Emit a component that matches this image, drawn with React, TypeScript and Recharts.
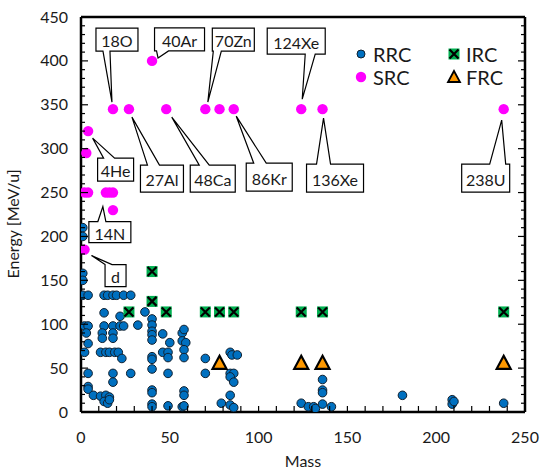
import { ScatterChart, Scatter, XAxis, YAxis, ReferenceDot, Legend, Label } from "recharts"

const FONT = "Lato, 'Open Sans', sans-serif"
const TEXT = "#1a1a1a"

type Pt = { mass: number; energy: number; name?: string }

// RRC beams
const rrc: Pt[] = [
  { mass: 1, energy: 210 }, { mass: 1, energy: 200 }, { mass: 1, energy: 158 }, { mass: 1, energy: 150 },
  { mass: 1, energy: 133 }, { mass: 4, energy: 133 }, { mass: 13, energy: 133 }, { mass: 15, energy: 133 },
  { mass: 18, energy: 133 }, { mass: 20, energy: 133 }, { mass: 24, energy: 133 }, { mass: 28, energy: 133 },
  { mass: 13, energy: 113 }, { mass: 22, energy: 109 },
  { mass: 2, energy: 98 }, { mass: 4, energy: 98 }, { mass: 13, energy: 98 }, { mass: 18, energy: 98 },
  { mass: 22, energy: 98 }, { mass: 24, energy: 98 }, { mass: 32, energy: 99 },
  { mass: 3, energy: 90 }, { mass: 12, energy: 90 }, { mass: 18, energy: 90 },
  { mass: 12, energy: 84 }, { mass: 18, energy: 84 }, { mass: 4, energy: 78 },
  { mass: 2, energy: 68 }, { mass: 11, energy: 68 }, { mass: 14, energy: 68 }, { mass: 16, energy: 68 },
  { mass: 19, energy: 68 }, { mass: 21, energy: 68 }, { mass: 23, energy: 61 },
  { mass: 4, energy: 44 }, { mass: 18, energy: 44 }, { mass: 28, energy: 44 }, { mass: 18, energy: 34 },
  { mass: 4, energy: 29 }, { mass: 4, energy: 26 }, { mass: 7, energy: 19 }, { mass: 11, energy: 18 },
  { mass: 14, energy: 19 }, { mass: 16, energy: 17 }, { mass: 13, energy: 12 }, { mass: 15, energy: 10 },
  { mass: 16, energy: 14 },
  { mass: 36, energy: 114 }, { mass: 40, energy: 106 }, { mass: 40, energy: 99 }, { mass: 40, energy: 92 },
  { mass: 40, energy: 88 }, { mass: 40, energy: 82 }, { mass: 46, energy: 89 }, { mass: 50, energy: 79 },
  { mass: 57, energy: 90 }, { mass: 58, energy: 94 }, { mass: 57, energy: 81 }, { mass: 59, energy: 79 },
  { mass: 58, energy: 71 }, { mass: 58, energy: 62 }, { mass: 40, energy: 63 }, { mass: 40, energy: 60 },
  { mass: 46, energy: 68 }, { mass: 49, energy: 68 }, { mass: 49, energy: 62 }, { mass: 40, energy: 49 },
  { mass: 49, energy: 44 }, { mass: 70, energy: 61 }, { mass: 70, energy: 44 },
  { mass: 40, energy: 25 }, { mass: 40, energy: 22 }, { mass: 58, energy: 24 }, { mass: 58, energy: 19 },
  { mass: 40, energy: 9 }, { mass: 40, energy: 6 }, { mass: 49, energy: 7 }, { mass: 57, energy: 6 },
  { mass: 58, energy: 7 },
  { mass: 84, energy: 68 }, { mass: 85, energy: 65 }, { mass: 88, energy: 65 }, { mass: 84, energy: 44 },
  { mass: 86, energy: 44 }, { mass: 84, energy: 40 }, { mass: 86, energy: 34 }, { mass: 84, energy: 19 },
  { mass: 79, energy: 10 }, { mass: 84, energy: 8 }, { mass: 86, energy: 5 },
  { mass: 124, energy: 10 }, { mass: 128, energy: 6 }, { mass: 131, energy: 6 }, { mass: 132, energy: 4 },
  { mass: 136, energy: 9 }, { mass: 136, energy: 37 }, { mass: 136, energy: 25 }, { mass: 136, energy: 22 },
  { mass: 141, energy: 6 },
  { mass: 181, energy: 19 }, { mass: 209, energy: 14 }, { mass: 209, energy: 9 }, { mass: 210, energy: 12 },
  { mass: 238, energy: 10 },
]

// SRC beams (named ones get a callout)
const src: Pt[] = [
  { mass: 2, energy: 185, name: "d" },
  { mass: 2, energy: 250 }, { mass: 4, energy: 250 },
  { mass: 14, energy: 250, name: "14N" }, { mass: 16, energy: 250 }, { mass: 18, energy: 250 },
  { mass: 18, energy: 230 }, { mass: 3, energy: 295 },
  { mass: 4, energy: 320, name: "4He" },
  { mass: 18, energy: 345, name: "18O" }, { mass: 27, energy: 345, name: "27Al" },
  { mass: 40, energy: 400, name: "40Ar" }, { mass: 48, energy: 345, name: "48Ca" },
  { mass: 70, energy: 345, name: "70Zn" }, { mass: 78, energy: 345 },
  { mass: 86, energy: 345, name: "86Kr" }, { mass: 124, energy: 345, name: "124Xe" },
  { mass: 136, energy: 345, name: "136Xe" }, { mass: 238, energy: 345, name: "238U" },
]

// IRC beams
const irc: Pt[] = [
  { mass: 27, energy: 114 }, { mass: 40, energy: 160 }, { mass: 40, energy: 126 }, { mass: 48, energy: 114 },
  { mass: 70, energy: 114 }, { mass: 78, energy: 114 }, { mass: 86, energy: 114 },
  { mass: 124, energy: 114 }, { mass: 136, energy: 114 }, { mass: 238, energy: 114 },
]

// FRC beams
const frc: Pt[] = [
  { mass: 78, energy: 56 }, { mass: 124, energy: 56 }, { mass: 136, energy: 56 }, { mass: 238, energy: 56 },
]

const xTicks = [0, 10, 20, 30, 40, 50, 60, 70, 80, 90, 100, 110, 120, 130, 140, 150, 160, 170, 180, 190, 200, 210, 220, 230, 240, 250]
const yTicks = [0, 10, 20, 30, 40, 50, 60, 70, 80, 90, 100, 110, 120, 130, 140, 150, 160, 170, 180, 190, 200, 210, 220, 230, 240, 250, 260, 270, 280, 290, 300, 310, 320, 330, 340, 350, 360, 370, 380, 390, 400, 410, 420, 430, 440, 450]

// callout box geometry in px, relative to the labelled point
const calloutStyle: Record<string, { box: number[]; side: "top" | "bottom"; base: number[]; tip: number[] }> = {
  "18O": { box: [-17, -81, 42, 23], side: "bottom", base: [7, 14], tip: [-1, -7] },
  "40Ar": { box: [2.5, -33, 50, 23], side: "bottom", base: [2, 14], tip: [6, -3] },
  "70Zn": { box: [7, -81, 42, 23], side: "bottom", base: [1, 9], tip: [2.5, -7] },
  "124Xe": { box: [-34, -81, 58, 26], side: "bottom", base: [38, 48], tip: [1, -10] },
  "136Xe": { box: [-16, 55, 57, 28], side: "top", base: [10, 24], tip: [1, 9] },
  "238U": { box: [-42, 55, 48, 28], side: "top", base: [28, 44], tip: [-2, 11] },
  "27Al": { box: [11.5, 56, 43, 27], side: "top", base: [7, 19], tip: [3, 8] },
  "48Ca": { box: [24, 56, 45, 27], side: "top", base: [9, 19], tip: [5.5, 8] },
  "86Kr": { box: [12.5, 54, 46, 28], side: "top", base: [7.5, 20], tip: [2.5, 7] },
  "4He": { box: [9.5, 27, 36, 23], side: "top", base: [6, 17], tip: [4.5, 7] },
  "14N": { box: [-17, 29, 42, 21], side: "top", base: [9, 17], tip: [-3, 14] },
  d: { box: [20.5, 15, 21, 22], side: "top", base: [0, 7], tip: [7, 6] },
}

function Callout({ cx, cy, name }: any) {
  const cfg = calloutStyle[name]
  const [bx, by, w, h] = cfg.box
  const x0 = cx + bx
  const y0 = cy + by
  const tx = cx + cfg.tip[0]
  const ty = cy + cfg.tip[1]
  const [b1, b2] = cfg.base
  const d =
    cfg.side === "bottom"
      ? `M${x0},${y0}H${x0 + w}V${y0 + h}H${x0 + b2}L${tx},${ty}L${x0 + b1},${y0 + h}H${x0}Z`
      : `M${x0},${y0}H${x0 + b1}L${tx},${ty}L${x0 + b2},${y0}H${x0 + w}V${y0 + h}H${x0}Z`
  return (
    <g>
      <path d={d} fill="#fff" stroke="#000" strokeWidth={1.2} />
      <text x={x0 + w / 2} y={y0 + h / 2 + 1} textAnchor="middle" dominantBaseline="central" fontSize={16} fontFamily={FONT} fill={TEXT}>
        {name}
      </text>
    </g>
  )
}

const RrcDot = ({ cx, cy }: any) => <circle cx={cx} cy={cy} r={4.3} fill="#0070C0" stroke="#10202f" strokeWidth={1} />
const SrcDot = ({ cx, cy }: any) => <circle cx={cx} cy={cy} r={5.2} fill="#FF00FF" />
const IrcMark = ({ cx, cy }: any) => (
  <g>
    <rect x={cx - 5.5} y={cy - 5.5} width={11} height={11} fill="#00B050" />
    <path d={`M${cx - 4.5},${cy - 4.5}L${cx + 4.5},${cy + 4.5}M${cx + 4.5},${cy - 4.5}L${cx - 4.5},${cy + 4.5}`} stroke="#000" strokeWidth={2.2} />
  </g>
)
const FrcMark = ({ cx, cy }: any) => (
  <path d={`M${cx},${cy - 7}L${cx + 7},${cy + 6}L${cx - 7},${cy + 6}Z`} fill="#FF9900" stroke="#000" strokeWidth={2.2} />
)

const BottomTick = ({ x, y, payload }: any) => (
  <g>
    <line x1={x} x2={x} y1={y} y2={y - 6} stroke="#000" strokeWidth={1.2} />
    {payload.value % 50 === 0 && (
      <text x={x} y={y + 31} textAnchor="middle" fontSize={16} fontFamily={FONT} fill={TEXT}>
        {payload.value}
      </text>
    )}
  </g>
)
const TopTick = ({ x, y }: any) => <line x1={x} x2={x} y1={y} y2={y + 6} stroke="#000" strokeWidth={1.2} />
const LeftTick = ({ x, y, payload }: any) => {
  const major = payload.value % 50 === 0
  return (
    <g>
      <line x1={x} x2={x + (major ? 7 : 4)} y1={y} y2={y} stroke="#000" strokeWidth={1.2} />
      {major && (
        <text x={x - 13} y={y + 5.5} textAnchor="end" fontSize={16} fontFamily={FONT} fill={TEXT}>
          {payload.value}
        </text>
      )}
    </g>
  )
}
const RightTick = ({ x, y, payload }: any) => (
  <line x1={x} x2={x - (payload.value % 50 === 0 ? 7 : 4)} y1={y} y2={y} stroke="#000" strokeWidth={1.2} />
)

const LegendBox = () => (
  <svg width={190} height={48}>
    <circle cx={9} cy={12} r={4} fill="#0070C0" stroke="#10202f" strokeWidth={1} />
    <text x={21} y={12} dominantBaseline="central" fontSize={20} fontFamily={FONT} fill={TEXT}>RRC</text>
    <circle cx={9} cy={35} r={5.2} fill="#FF00FF" />
    <text x={21} y={35} dominantBaseline="central" fontSize={20} fontFamily={FONT} fill={TEXT}>SRC</text>
    <IrcMark cx={102} cy={12} />
    <text x={114} y={12} dominantBaseline="central" fontSize={20} fontFamily={FONT} fill={TEXT}>IRC</text>
    <path d="M102,29L108,40L96,40Z" fill="#FF9900" stroke="#000" strokeWidth={1.8} />
    <text x={114} y={35} dominantBaseline="central" fontSize={20} fontFamily={FONT} fill={TEXT}>FRC</text>
  </svg>
)

const frame = { stroke: "#000", strokeWidth: 2.5 }

export default function App() {
  return (
    <div style={{ position: "absolute", left: 0, top: 0, background: "#fff" }}>
      <ScatterChart width={541} height={471} margin={{ top: 16, right: 15, bottom: 0, left: 0 }}>
        <XAxis
          dataKey="mass"
          type="number"
          domain={[0, 250]}
          ticks={xTicks}
          interval={0}
          tick={BottomTick}
          tickLine={false}
          tickSize={0}
          tickMargin={0}
          height={59}
          axisLine={frame}
          allowDataOverflow
        >
          <Label
            content={() => (
              <text x={303} y={467} textAnchor="middle" fontSize={16} fontFamily={FONT} fill={TEXT}>
                Mass
              </text>
            )}
          />
        </XAxis>
        <XAxis
          xAxisId="top"
          orientation="top"
          type="number"
          domain={[0, 250]}
          ticks={xTicks}
          interval={0}
          tick={TopTick}
          tickLine={false}
          tickSize={0}
          tickMargin={0}
          height={1}
          axisLine={frame}
          allowDataOverflow
        />
        <YAxis
          dataKey="energy"
          type="number"
          domain={[0, 450]}
          ticks={yTicks}
          interval={0}
          tick={LeftTick}
          tickLine={false}
          tickSize={0}
          tickMargin={0}
          width={81}
          axisLine={frame}
          allowDataOverflow
        >
          <Label
            content={() => (
              <text x={19} y={224} transform="rotate(-90 19 224)" textAnchor="middle" fontSize={16} fontFamily={FONT} fill={TEXT}>
                Energy [MeV/u]
              </text>
            )}
          />
        </YAxis>
        <YAxis
          yAxisId="right"
          orientation="right"
          type="number"
          domain={[0, 450]}
          ticks={yTicks}
          interval={0}
          tick={RightTick}
          tickLine={false}
          tickSize={0}
          tickMargin={0}
          width={1}
          axisLine={frame}
          allowDataOverflow
        />
        <Scatter name="RRC" data={rrc} shape={RrcDot} isAnimationActive={false} />
        <Scatter name="SRC" data={src} shape={SrcDot} isAnimationActive={false} />
        <Scatter name="IRC" data={irc} shape={IrcMark} isAnimationActive={false} />
        <Scatter name="FRC" data={frc} shape={FrcMark} isAnimationActive={false} />
        {src
          .filter((p) => p.name)
          .map((p) => (
            <ReferenceDot
              key={p.name}
              x={p.mass}
              y={p.energy}
              r={5}
              ifOverflow="visible"
              shape={(props: any) => <Callout cx={props.cx} cy={props.cy} name={p.name} />}
            />
          ))}
        <Legend
          layout="vertical"
          align="center"
          verticalAlign="middle"
          content={LegendBox}
          wrapperStyle={{ position: "absolute", left: 352, top: 42, width: 190, height: 48 }}
        />
      </ScatterChart>
    </div>
  )
}
